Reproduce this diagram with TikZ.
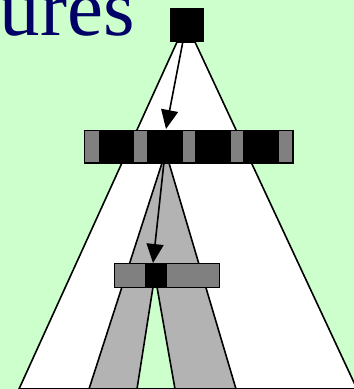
\documentclass[tikz,border=0pt]{standalone}
\usepackage{fontspec}
\setmainfont{Liberation Serif}
\usetikzlibrary{arrows.meta}
\definecolor{bggreen}{HTML}{CCFFCC}
\definecolor{lgray}{HTML}{B3B3B3}
\definecolor{dgray}{HTML}{808080}
\definecolor{navy}{HTML}{000066}
\tikzset{
  outl/.style={draw=black, line width=1.6pt, line join=miter},
  arr/.style={draw=black, line width=1.6pt, -{Triangle[length=19pt,width=17pt]}},
  blk/.style={fill=black, draw=black, line width=1.2pt, inner sep=0pt},
}
\begin{document}
\begin{tikzpicture}[x=1pt,y=-1pt]
\fill[bggreen] (0,0) rectangle (354,389);
\useasboundingbox (0,0) rectangle (354,389);
% title fragment
\node[anchor=base east, text=navy, inner sep=0pt, font=\fontsize{81}{81}\selectfont] (title) at (135,35) {ures};
% white tree
\path[outl, fill=white] (177,42) -- (195,42) -- (357,389) -- (19,389) -- cycle;
% gray subtree
\path[outl, fill=lgray] (162,163) -- (169,163) -- (236,389) -- (89,389) -- cycle;
\path[outl, fill=bggreen] (153,287) -- (157,287) -- (175,389) -- (137,389) -- cycle;
% middle bar
\node[blk, minimum width=209pt, minimum height=33pt, anchor=north west] (mid) at (84,130) {};
\foreach \a/\b in {84/100,133/148,182/196,230/244,278/293}{
  \fill[dgray] (\a+1,131) rectangle (\b-1,162);
}
% lower bar
\node[draw=black, fill=dgray, line width=1.2pt, inner sep=0pt, minimum width=105pt, minimum height=24pt, anchor=north west] (low) at (114,263) {};
\node[blk, minimum width=21pt, minimum height=23pt, anchor=north west] (lowsq) at (145,263.5) {};
% top square
\node[blk, minimum size=33pt, anchor=north west] (top) at (170,8) {};
% arrows
\coordinate (a1s) at (183,41);
\coordinate (a1e) at (166,129);
\coordinate (a2s) at (164,162);
\coordinate (a2e) at (153,263);
\draw[arr] (a1s) -- (a1e);
\draw[arr] (a2s) -- (a2e);
\end{tikzpicture}
\end{document}
